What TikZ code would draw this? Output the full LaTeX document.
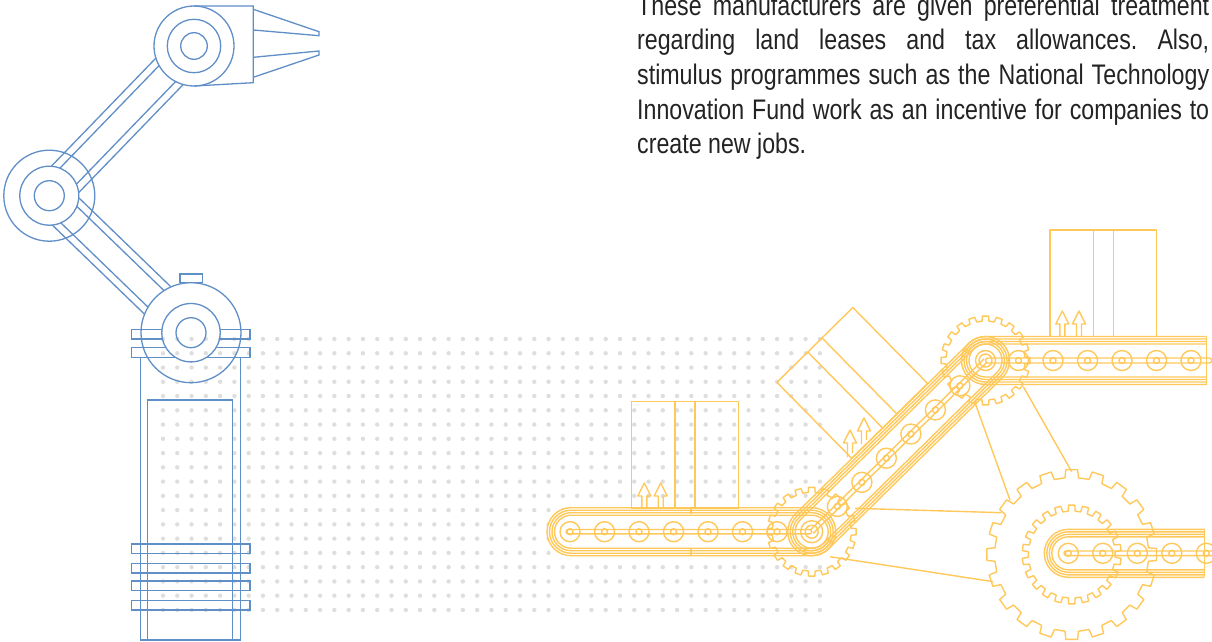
\documentclass[tikz,border=0pt]{standalone}
\usepackage{fontspec}
\newfontfamily\bodyfont[FakeStretch=0.82]{Liberation Sans}
\definecolor{armblue}{RGB}{96,142,199}
\definecolor{beltyellow}{RGB}{255,200,90}
\definecolor{dotgrey}{RGB}{222,222,222}
\definecolor{textgrey}{RGB}{35,35,35}
\frenchspacing

% gear: centre x, centre y, teeth, root radius, tip radius
\newcommand{\gearwheel}[5]{%
  \begin{scope}[shift={(#1,#2)}]
    \draw[belt] ({-90-100/#3}:#4)
      \foreach \k in {1,...,#3} {
        -- ({-90+(\k-1)*360/#3-100/#3}:#4)
        -- ({-90+(\k-1)*360/#3-80/#3}:#5)
        -- ({-90+(\k-1)*360/#3+80/#3}:#5)
        -- ({-90+(\k-1)*360/#3+100/#3}:#4)} -- cycle;
  \end{scope}}
% this-side-up arrow: x, tip y, foot y left, foot y right
\newcommand{\uparrowmark}[4]{%
  \draw[belt] ({#1-2.5},#3) -- ({#1-2.5},{#2+13}) -- ({#1-6.5},{#2+13}) -- (#1,#2)
    -- ({#1+6.5},{#2+13}) -- ({#1+2.5},{#2+13}) -- ({#1+2.5},#4);}

\begin{document}
\begin{tikzpicture}[x=1pt, y=-1pt,
    arm/.style={armblue, line width=1.3pt},
    belt/.style={beltyellow, line width=1.4pt, line join=round},
    copy/.style={anchor=base west, inner sep=0pt, text=textgrey,
      font=\bodyfont\fontsize{28.3}{34}\selectfont},
    crate/.pic={\draw[belt] (0,0) rectangle (106.6,-106.6)
      (43.3,0) -- (43.3,-106.6) (63.3,0) -- (63.3,-106.6);}]
  \useasboundingbox (0,0) rectangle (1212,642);

  % text
  \node[copy] (line1) at (637,15.5) {\makebox[572pt][s]{These manufacturers are given preferential treatment}};
  \node[copy] (line2) at (637,50) {\makebox[572pt][s]{regarding land leases and tax allowances. Also,}};
  \node[copy] (line3) at (637,84.5) {\makebox[572pt][s]{stimulus programmes such as the National Technology}};
  \node[copy] (line4) at (637,119) {\makebox[572pt][s]{Innovation Fund work as an incentive for companies to}};
  \node[copy] (line5) at (637,153.5) {create new jobs.};

  % dot grid
  \foreach \i in {0,...,46}
    \foreach \j in {0,...,19}
      \fill[dotgrey] ({163+14.28*\i},{339+14.26*\j}) circle (2.2);

  % robot arm
  \begin{scope}[shift={(49.3,195.7)}, rotate=45.97]
    \draw[arm] (22.6,-19) -- (173,-19) (27.2,-11.5) -- (169.9,-11.5)
               (27.2,11.5) -- (169.9,11.5) (22.6,19) -- (173,19);
  \end{scope}
  \begin{scope}[shift={(49.3,195.7)}, rotate=-44.03]
    \draw[arm] (22.6,-19) -- (150.9,-19) (27.2,-11.5) -- (148.4,-11.5)
               (27.2,11.5) -- (148.4,11.5) (22.6,19) -- (150.9,19);
  \end{scope}
  \draw[arm] (194,46) circle (40) circle (26.7) circle (13.3);
  \draw[arm] (49.3,195.7) circle (45.5) circle (29.5) circle (15);
  \draw[arm] (194,6) -- (253.3,6) -- (253.3,82.7) -- (194,86);
  \draw[arm] (253.3,9.3) -- (319,31.7) -- (319,35.7) -- (253.3,30);
  \draw[arm] (253.3,57.3) -- (319,51) -- (319,55) -- (253.3,77.3);

  % robot base
  \draw[arm] (180,274) rectangle (202.3,282.7);
  \draw[arm] (162,329.3) -- (131.7,329.3) -- (131.7,339) -- (162.5,339)
             (220,329.3) -- (250,329.3) -- (250,339) -- (219.5,339);
  \draw[arm] (166,347.7) -- (131.7,347.7) -- (131.7,357.3) -- (175.3,357.3)
             (216,347.7) -- (250,347.7) -- (250,357.3) -- (206.7,357.3);
  \draw[arm] (191,332.7) circle (50) circle (29.2) circle (15);
  \draw[arm] (140.7,357.3) -- (140.7,640) -- (240.7,640) -- (240.7,357.3);
  \draw[arm] (147.3,400) rectangle (232.3,640);
  \foreach \y in {544,563.3,581,600.3}
    \draw[arm] (131.7,\y) rectangle (250,\y+9.8);

  % white backing of the belts
  \fill[white, rounded corners=24] (547,507.7) rectangle (835.7,555.7);
  \begin{scope}[shift={(811.7,531.7)}, rotate=44.56]
    \fill[white, rounded corners=24] (-24,-24) rectangle (268,24);
  \end{scope}

  % gears
  \gearwheel{811.7}{531.7}{20}{39.5}{44.5}
  \gearwheel{985.5}{360.5}{20}{39.5}{44.5}
  \gearwheel{1071.7}{554.5}{20}{77}{85}
  \gearwheel{1071.7}{554.5}{22}{43.5}{49.5}

  % struts
  \draw[belt] (975,402.7) -- (1010,500) (1023.3,386.7) -- (1071.7,471.7);
  \draw[belt] (855,508.3) -- (1001.7,512.7) (830,556.7) -- (993.3,581.7);

  % lower conveyor
  \foreach \h in {24,21.5,19,16.5}
    \draw[belt, rounded corners=\h] ({571-\h},{531.7-\h}) rectangle ({811.7+\h},{531.7+\h});
  \draw[belt, rounded corners=2.2] (566,529.5) rectangle (811.7,533.9);
  \foreach \k in {0,...,6}
    \draw[belt] ({570+34.5*\k},531.7) circle (10) circle (3);
  \draw[belt] (691,507.7) -- (691,514) (691,549.4) -- (691,555.7);

  % inclined conveyor
  \begin{scope}[shift={(811.7,531.7)}, rotate=44.56]
    \foreach \h in {24,21.5,19,16.5}
      \draw[belt, rounded corners=\h] (-\h,-\h) rectangle ({244+\h},\h);
    \draw[belt] (0,-2.2) -- (244,-2.2) (0,2.2) -- (244,2.2);
    \foreach \a in {36,70.4,104.8,139.2,173.6,208}
      \draw[belt] (\a,0) circle (10) circle (3);
  \end{scope}
  \draw[belt] (811.7,531.7) circle (11) circle (6.5);
  \draw[belt] (985.5,360.5) circle (10) circle (6.5);

  % upper conveyor
  \foreach \h in {24,21.5,19,16.5}
    \draw[belt, rounded corners=\h] (1206.7,{360.5-\h}) -- ({985.5-\h},{360.5-\h})
      -- ({985.5-\h},{360.5+\h}) -- (1206.7,{360.5+\h});
  \draw[belt] (1206.7,336.5) -- (1206.7,384.5);
  \draw[belt, rounded corners=2.5] (985.5,358) rectangle (1211.7,363);
  \foreach \k in {0,...,5}
    \draw[belt] ({1018.5+34.5*\k},360.5) circle (10) circle (3);

  % right conveyor
  \foreach \h in {24,21.5,19,16.5}
    \draw[belt, rounded corners=\h] (1204.3,{553.3-\h}) -- ({1068.3-\h},{553.3-\h})
      -- ({1068.3-\h},{553.3+\h}) -- (1204.3,{553.3+\h});
  \draw[belt] (1204.3,529.3) -- (1204.3,577.3);
  \draw[belt, rounded corners=2.3] (1064,551) rectangle (1216,555.6);
  \foreach \k in {0,...,4}
    \draw[belt] ({1068.3+34.5*\k},553.3) circle (10) circle (3);

  % boxes
  \pic at (631.7,508.3) {crate};
  \pic at (1050,336.6) {crate};
  \pic[rotate=44.56] at (851.7,458.3) {crate};
  \uparrowmark{644.3}{483}{508.3}{508.3}
  \uparrowmark{660.7}{483}{508.3}{508.3}
  \uparrowmark{1062.3}{311}{336.6}{336.6}
  \uparrowmark{1079}{311}{336.6}{336.6}
  \uparrowmark{850}{430}{457}{453}
  \uparrowmark{864}{418}{444}{440}
\end{tikzpicture}
\end{document}
